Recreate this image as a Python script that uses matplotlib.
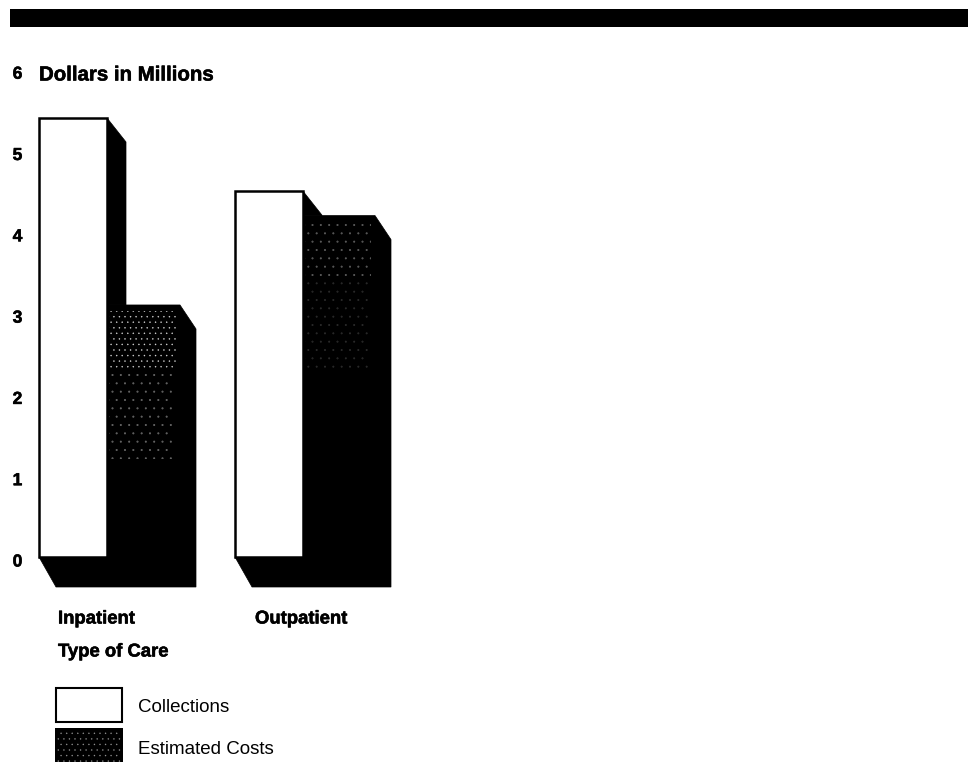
import matplotlib
matplotlib.use("Agg")
import matplotlib.pyplot as plt
import matplotlib.patheffects as pe
from matplotlib.patches import Polygon, Rectangle

categories = ["Inpatient", "Outpatient"]
collections = [5.4, 4.5]
estimated_costs = [3.1, 4.2]
y_ticks = [0, 1, 2, 3, 4, 5, 6]
legend_labels = ["Collections", "Estimated Costs"]

W, H = 971, 762
ZERO_PX, UNIT_PX = 557, 81.3
FRONT_W = 68
COST_W = [73, 72]
WALL_DX, WALL_DY = 17, 24 / UNIT_PX
FLOOR_DX, FLOOR_DY = 17, 30 / UNIT_PX
GROUP_X = [39, 235]
CATEGORY_X = [58, 255]
# Hatch density and strength of the stippling on each cost bar
STIPPLE = [("...", 0.75), ("..", 0.3)]

plt.rcParams["font.family"] = ["Liberation Sans", "DejaVu Sans"]
plt.rcParams["hatch.linewidth"] = 0.3
plt.rcParams["hatch.color"] = "white"

fig = plt.figure(figsize=(W / 100, H / 100), dpi=100, facecolor="white")
ax = fig.add_axes([0, 0, 1, 1])
ax.set_xlim(0, W)
ax.set_ylim((ZERO_PX - H) / UNIT_PX, ZERO_PX / UNIT_PX)
ax.axis("off")


def to_value(px):
    return (ZERO_PX - px) / UNIT_PX


heavy = [pe.withStroke(linewidth=0.4, foreground="black")]

# Title band across the top of the page
ax.add_patch(Rectangle((10, to_value(27)), 958, 18.5 / UNIT_PX, fc="black", ec="none"))

for x0, coll, cost, cost_w, (dots, strength) in zip(GROUP_X, collections, estimated_costs, COST_W, STIPPLE):
    x1 = x0 + FRONT_W
    x2 = x1 + cost_w
    # Extruded shadow: floor, collection side wall, and cost bar with its bevel
    ax.add_patch(Polygon([(x0, 0), (x0 + FLOOR_DX, -FLOOR_DY), (x2 + WALL_DX - 1, -FLOOR_DY),
                          (x2 + WALL_DX - 1, cost - WALL_DY), (x2, cost), (x1, cost),
                          (x1, 0)], fc="black", ec="black", lw=0.5, zorder=2))
    ax.add_patch(Polygon([(x1, coll), (x1 + WALL_DX + 2, coll - WALL_DY), (x1 + WALL_DX + 2, cost),
                          (x1, cost)], fc="black", ec="black", lw=0.5, zorder=2))
    # Stippled upper part of the cost bar, fading further down
    ax.add_patch(Rectangle((x1 + 2, cost - 0.8), cost_w - 6, 0.72, fc="none", ec="white",
                           lw=0, hatch=dots, alpha=strength, zorder=3))
    ax.add_patch(Rectangle((x1 + 2, cost - 1.9), cost_w - 8, 1.1, fc="none", ec="white",
                           lw=0, hatch="..", alpha=strength * 0.45, zorder=3))
    # White front face of the collections bar
    ax.add_patch(Rectangle((x0, 0), FRONT_W, coll, fc="white", ec="black", lw=1.8, zorder=4))

# Value axis labels
for v in y_ticks:
    ax.text(17.5, to_value(ZERO_PX + 5) + v, str(v), ha="center", va="center",
            fontsize=12.5, fontweight="bold", path_effects=heavy)

ax.text(39, to_value(75), "Dollars in Millions", ha="left", va="center",
        fontsize=14.7, fontweight="bold", path_effects=heavy)

for x, name in zip(CATEGORY_X, categories):
    ax.text(x, to_value(619), name, ha="left", va="center", fontsize=13.3,
            fontweight="bold", path_effects=heavy)
ax.text(58, to_value(652), "Type of Care", ha="left", va="center", fontsize=13.3,
        fontweight="bold", path_effects=heavy)

# Legend swatches with their labels
ax.add_patch(Rectangle((56, to_value(722)), 66, 34 / UNIT_PX, fc="white", ec="black", lw=1.5))
ax.add_patch(Rectangle((55, to_value(762)), 68, 34 / UNIT_PX, fc="black", ec="none"))
ax.add_patch(Rectangle((57, to_value(762)), 64, 32 / UNIT_PX, fc="none", ec="white", lw=0,
                       hatch="...", alpha=0.45))
ax.text(138, to_value(708), legend_labels[0], ha="left", va="center", fontsize=13.5)
ax.text(138, to_value(750), legend_labels[1], ha="left", va="center", fontsize=13.5)

fig.savefig("out.png", dpi=100, facecolor="white")
